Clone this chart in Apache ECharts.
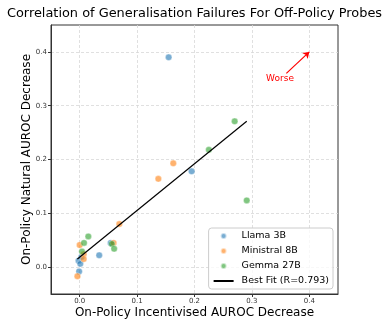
<!DOCTYPE html>
<html>
<head>
<meta charset="utf-8">
<script src="https://cdn.jsdelivr.net/npm/echarts@6/dist/echarts.min.js"></script>
<style>
  html, body { margin: 0; padding: 0; background: #fff; }
  #chart { width: 389px; height: 324px; }
</style>
</head>
<body>
<div id="chart"></div>
<script>
// 数据: [incentivised decrease, natural decrease]
var llama = [
  [0.155, 0.390], [0.195, 0.178], [0.034, 0.022], [0.054, 0.045],
  [-0.002, 0.012], [0.001, 0.006], [-0.001, -0.008], [0.003, 0.019]
];
var ministral = [
  [0.163, 0.193], [0.137, 0.164], [0.069, 0.080], [0.000, 0.041],
  [0.007, 0.024], [0.007, 0.015], [-0.004, -0.017], [0.059, 0.045]
];
var gemma = [
  [0.225, 0.218], [0.270, 0.271], [0.291, 0.124], [0.015, 0.057],
  [0.0075, 0.045], [0.004, 0.029], [0.056, 0.043], [0.060, 0.034]
];
// best fit line endpoints
var fitLine = [[-0.004, 0.015], [0.291, 0.271]];
// "Worse" arrow
var arrowFrom = [0.36, 0.36];
var arrowTo = [0.40, 0.40];
var worsePos = [0.349, 0.351];
var tickValues = [0.0, 0.1, 0.2, 0.3, 0.4];

var chart = echarts.init(document.getElementById("chart"));

var font = "DejaVu Sans";

function scatter(name, data, color) {
  return {
    name: name,
    type: "scatter",
    data: data,
    symbolSize: 6.5,
    itemStyle: {
      color: color,
      opacity: 0.6,
      borderColor: "#fff",
      borderWidth: 0.6,
    },
  };
}

function axis(name, gap) {
  return {
    type: "value",
    min: -0.05,
    max: 0.45,
    name: name,
    nameLocation: "middle",
    nameGap: gap,
    nameMoveOverlap: false,
    nameTextStyle: { fontFamily: font, fontSize: 12, color: "#000" },
    axisLine: { show: true, onZero: false, lineStyle: { color: "#333", width: 1 } },
    axisTick: { show: true, length: 3, customValues: tickValues, lineStyle: { color: "#333" } },
    axisLabel: {
      customValues: tickValues,
      formatter: function (v) { return v.toFixed(1); },
      fontFamily: font,
      fontSize: 7,
      color: "#333",
      margin: 4,
    },
    splitLine: {
      show: true,
      lineStyle: { color: "#d8d8d8", type: [3, 2], width: 0.8 },
    },
  };
}

var option = {
  animation: false,
  title: {
    text: "Correlation of Generalisation Failures For Off-Policy Probes",
    left: "center",
    top: 2,
    textStyle: { fontFamily: font, fontSize: 12.9, fontWeight: "normal", color: "#000" },
  },
  grid: {
    left: 51,
    right: 51,
    top: 25,
    bottom: 30,
    show: true,
    borderColor: "#333",
    borderWidth: 1,
  },
  legend: {
    orient: "vertical",
    right: 56,
    bottom: 35,
    data: [
      "Llama 3B",
      "Ministral 8B",
      "Gemma 27B",
      { name: "Best Fit (R=0.793)", itemStyle: { opacity: 0 } },
    ],
    itemWidth: 20,
    itemHeight: 6,
    itemGap: 5,
    padding: [3, 4, 3, 4],
    backgroundColor: "rgba(255,255,255,0.8)",
    borderColor: "#ccc",
    borderWidth: 1,
    borderRadius: 3,
    textStyle: { fontFamily: font, fontSize: 9.5, color: "#000", padding: [0, 0, 0, 3] },
  },
  xAxis: axis("On-Policy Incentivised AUROC Decrease", 13),
  yAxis: axis("On-Policy Natural AUROC Decrease", 18),
  series: [
    scatter("Llama 3B", llama, "#1f77b4"),
    scatter("Ministral 8B", ministral, "#ff7f0e"),
    scatter("Gemma 27B", gemma, "#2ca02c"),
    {
      name: "Best Fit (R=0.793)",
      type: "line",
      data: fitLine,
      symbol: "none",
      itemStyle: { color: "#000" },
      lineStyle: { color: "#000", width: 1.2 },
      markLine: {
        silent: true,
        symbol: ["none", "arrow"],
        symbolSize: 6,
        label: { show: false },
        lineStyle: { color: "#ff0000", width: 1.2, type: "solid" },
        data: [[{ coord: arrowFrom }, { coord: arrowTo }]],
      },
      markPoint: {
        silent: true,
        symbol: "circle",
        symbolSize: 0,
        label: {
          show: true,
          formatter: "Worse",
          color: "#ff0000",
          fontFamily: font,
          fontSize: 9,
          position: "inside",
        },
        data: [{ coord: worsePos }],
      },
    },
  ],
};

chart.setOption(option);
</script>
</body>
</html>
